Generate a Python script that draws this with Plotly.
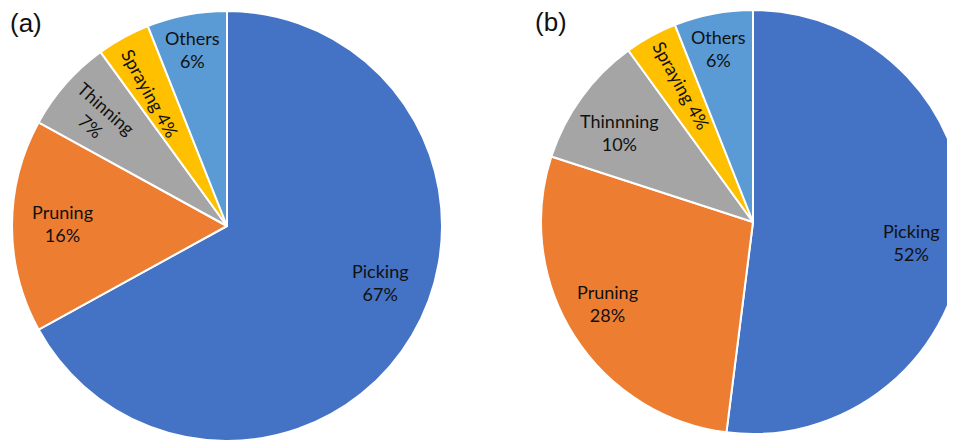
import math
import plotly.graph_objects as go

# ---- data ----
categories_a = ["Picking", "Pruning", "Thinning", "Spraying", "Others"]
values_a = [67, 16, 7, 4, 6]
categories_b = ["Picking", "Pruning", "Thinnning", "Spraying", "Others"]
values_b = [52, 28, 10, 4, 6]
panel_labels = ["(a)", "(b)"]

# ---- style ----
colors = ["#4472C4", "#ED7D31", "#A5A5A5", "#FFC000", "#5B9BD5"]
W, H = 970, 441
OFF = 8  # page body margin
pie_geom = [  # centre x, centre y, radius (screen px)
    (227, 226, 215),
    (753, 222, 212),
]
label_frac = [[0.763, 0.763, 0.78, 0.716, 0.837], [0.755, 0.788, 0.76, 0.73, 0.833]]
label_dang = [[-10.3, 1.0, -1.2, -1.2, -0.4], [3.9, 3.1, -2.1, 1.1, -0.6]]
label_rot = [[False, False, True, True, False], [False, False, False, True, False]]
label_oneline = [[False, False, False, True, False], [False, False, False, True, False]]
panel_pos = [(26, 23), (551, 22)]


def fx(px):
    return (px - OFF) / W


def fy(py):
    return 1 - (py - OFF) / H


fig = go.Figure()
annotations = []
for k, (cats, vals) in enumerate([(categories_a, values_a), (categories_b, values_b)]):
    cx, cy, r = pie_geom[k]
    fig.add_trace(go.Pie(
        labels=cats, values=vals, sort=False, direction="clockwise", rotation=0,
        marker=dict(colors=colors, line=dict(color="white", width=2)),
        textinfo="none", hoverinfo="label+percent", showlegend=False,
        domain=dict(x=[fx(cx - r), fx(cx + r)], y=[max(0, fy(cy + r)), fy(cy - r)]),
    ))
    total = sum(vals)
    cum = 0
    for i, (c, v) in enumerate(zip(cats, vals)):
        mid = (cum + v / 2) / total * 360
        cum += v
        ang = math.radians(mid + label_dang[k][i])
        d = label_frac[k][i] * r
        px = cx + d * math.sin(ang)
        py = cy - d * math.cos(ang)
        pct = f"{v / total * 100:.0f}%"
        txt = f"{c} {pct}" if label_oneline[k][i] else f"{c}<br>{pct}"
        annotations.append(dict(
            x=fx(px), y=fy(py), xref="paper", yref="paper", text=txt,
            showarrow=False, xanchor="center", yanchor="middle", align="center",
            textangle=(mid - 270) if label_rot[k][i] else 0,
            font=dict(family="Lato", size=18, color="#111111"),
        ))

for k, lab in enumerate(panel_labels):
    px, py = panel_pos[k]
    annotations.append(dict(
        x=fx(px), y=fy(py), xref="paper", yref="paper", text=lab,
        showarrow=False, xanchor="center", yanchor="middle",
        font=dict(family="Liberation Sans", size=26, color="#111111"),
    ))

fig.update_layout(
    width=W, height=H, autosize=False,
    margin=dict(l=0, r=0, t=0, b=0),
    paper_bgcolor="white", plot_bgcolor="white",
    annotations=annotations,
)
fig.write_html("out.html")
